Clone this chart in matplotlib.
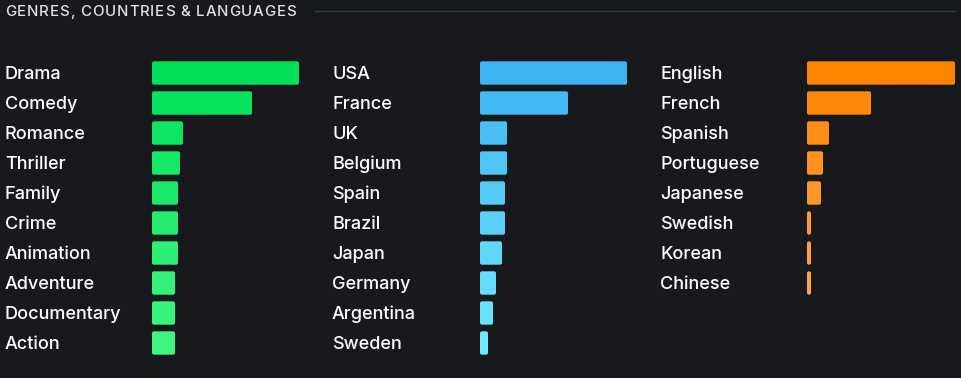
import matplotlib
matplotlib.use("Agg")
import matplotlib.pyplot as plt
import numpy as np
from matplotlib.lines import Line2D
from matplotlib.patches import FancyBboxPatch
from matplotlib.transforms import blended_transform_factory

plt.rcParams["font.family"] = ["Inter", "DejaVu Sans"]

genres = ["Drama", "Comedy", "Romance", "Thriller", "Family", "Crime",
          "Animation", "Adventure", "Documentary", "Action"]
genre_counts = [147, 100, 31, 28, 26, 26, 26, 23, 23, 23]

countries = ["USA", "France", "UK", "Belgium", "Spain", "Brazil", "Japan",
             "Germany", "Argentina", "Sweden"]
country_counts = [147, 88, 27, 27, 25, 25, 22, 16, 13, 8]

languages = ["English", "French", "Spanish", "Portuguese", "Japanese",
             "Swedish", "Korean", "Chinese"]
language_counts = [148, 64, 22, 16, 14, 4, 4, 4]

title = "GENRES, COUNTRIES & LANGUAGES"

BG = "#17191c"
W, H = 962, 378


def shades(top, bottom, n):
    top = np.array(matplotlib.colors.to_rgb(top))
    bottom = np.array(matplotlib.colors.to_rgb(bottom))
    return [tuple(top + (bottom - top) * t) for t in np.linspace(0, 1, n)]


fig = plt.figure(figsize=(W / 100, H / 100), dpi=100, facecolor=BG)

panels = [
    (genres, genre_counts, 5, 152, 147, "#00e05a", "#40f581"),
    (countries, country_counts, 332, 480, 147, "#3eb4f0", "#70e8ff"),
    (languages, language_counts, 660, 807, 148, "#ff8500", "#ffa445"),
]

for names, counts, label_x, left, width, c_top, c_bot in panels:
    ax = fig.add_axes([left / W, 1 - 358 / H, width / W, 300 / H])
    ax.set_facecolor(BG)
    y = np.arange(len(names))
    bars = ax.barh(y, counts, height=0.78,
                   color=shades(c_top, c_bot, len(names)))
    ax.set_xlim(0, max(counts))
    ax.set_ylim(9.5, -0.5)
    ax.axis("off")

    # swap the plain rectangles for slightly rounded ones
    x_per_px = max(counts) / width
    y_per_px = 1 / 30
    for b in bars:
        bx, by = b.get_x(), b.get_y()
        bw, bh = b.get_width(), b.get_height()
        rr = min(2 * x_per_px, bw / 2)
        ax.add_patch(FancyBboxPatch((bx, by), bw, bh,
                                    boxstyle=f"round,pad=0,rounding_size={rr}",
                                    mutation_aspect=y_per_px / x_per_px,
                                    fc=b.get_facecolor(), ec="none"))
        b.set_visible(False)

    trans = blended_transform_factory(fig.transFigure, ax.transData)
    for i, name in enumerate(names):
        # baseline sits ~6px below the bar centre
        ax.text(label_x / W, i + 0.2, name, transform=trans, color="white",
                fontsize=13, fontweight="medium", va="baseline", ha="left")

# title with extra letter spacing, drawn char by char
renderer = fig.canvas.get_renderer()
x = 5
for ch in title:
    t = fig.text(x / W, 1 - 16 / H, ch, color="#e2e2e2", fontsize=10.8,
                 fontweight="medium", va="baseline", ha="left")
    if ch == " ":
        probe = fig.text(0, 0, "a a", fontsize=10.8, fontweight="medium")
        w_aa = probe.get_window_extent(renderer).width
        probe.set_text("aa")
        w = w_aa - probe.get_window_extent(renderer).width
        probe.remove()
    else:
        w = t.get_window_extent(renderer).width
    x += w + 0.85

fig.add_artist(Line2D([315 / W, 955 / W], [1 - 10.5 / H, 1 - 10.5 / H],
                      color="#3a3d42", lw=1))

fig.savefig("out.png", facecolor=BG)
